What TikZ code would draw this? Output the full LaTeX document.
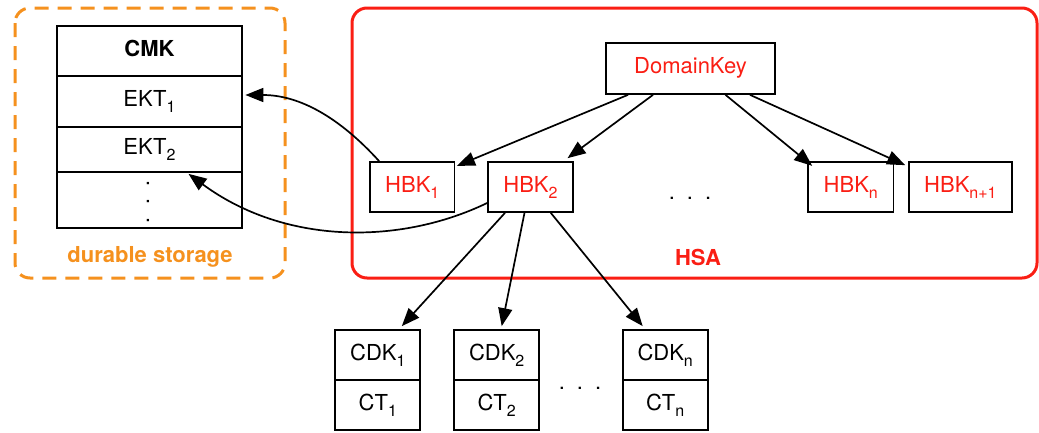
\documentclass[tikz,border=0pt]{standalone}
\usepackage{fontspec}
\setmainfont{TeX Gyre Heros}
\usetikzlibrary{arrows.meta}
\definecolor{hsared}{RGB}{250,30,20}
\definecolor{storeorange}{RGB}{245,145,30}
\newcommand\lowidx[1]{\raisebox{-6pt}{\fontsize{16}{16}\selectfont #1}}
\tikzset{
  every node/.style={font=\fontsize{22}{26}\selectfont},
  keybox/.style={draw=black, line width=1.7pt, inner sep=0pt, minimum height=50pt, text height=16pt, text depth=6pt},
  plainbox/.style={draw=black, line width=1.7pt, inner sep=0pt},
  hsatext/.style={text=hsared},
  conn/.style={line width=1.7pt, -{Triangle[length=18pt,width=14pt]}},
  dotmark/.style={inner sep=0pt, font=\fontsize{22}{22}\selectfont}
}
\begin{document}
\begin{tikzpicture}[x=1pt,y=-1pt]
\useasboundingbox (0,0) rectangle (1039,432);
% containers
\draw[storeorange, line width=3pt, dash pattern=on 14pt off 9pt, rounded corners=15pt] (15,8) rectangle (285,278);
\draw[hsared, line width=3pt, rounded corners=15pt] (352,8) rectangle (1037,278);
\node[text=storeorange, font=\bfseries\fontsize{22}{26}\selectfont] (dslabel) at (150,257) {durable storage};
\node[text=hsared, font=\bfseries\fontsize{22}{26}\selectfont] (hsalabel) at (698,257) {HSA};
% storage table
\node[keybox, minimum width=185pt, minimum height=50pt, font=\bfseries\fontsize{22}{26}\selectfont] (cmk) at (149.5,51) {CMK};
\node[keybox, minimum width=185pt, minimum height=51pt] (ekt1) at (149.5,101.5) {EKT\lowidx{1}};
\node[keybox, minimum width=185pt, minimum height=45pt] (ekt2) at (149.5,149.5) {EKT\lowidx{2}};
\node[plainbox, minimum width=185pt, minimum height=56pt] (erest) at (149.5,200) {};
\node[dotmark, rotate=-90] (vdots) at (148,202) {.\hspace{12pt}.\hspace{12pt}.};
% HSA keys
\node[keybox, hsatext, minimum width=169pt, minimum height=51pt] (domain) at (690.5,68.5) {DomainKey};
\node[keybox, hsatext, minimum width=84.6pt] (hbk1) at (412.3,187) {HBK\lowidx{1}};
\node[keybox, hsatext, minimum width=85pt] (hbk2) at (530.5,187) {HBK\lowidx{2}};
\node[keybox, hsatext, minimum width=85.5pt] (hbkn) at (850.8,187) {HBK\lowidx{n}};
\node[keybox, hsatext, minimum width=102.7pt] (hbkm) at (960.4,187) {HBK\lowidx{n+1}};
\node[dotmark] (hdots) at (690,198) {.\hspace{12pt}.\hspace{12pt}.};
% data keys
\node[keybox, minimum width=85pt] (cdk1) at (377.8,355) {CDK\lowidx{1}};
\node[keybox, minimum width=85pt] (ct1) at (377.8,405) {CT\lowidx{1}};
\node[keybox, minimum width=85pt] (cdk2) at (496.7,355) {CDK\lowidx{2}};
\node[keybox, minimum width=85pt] (ct2) at (496.7,405) {CT\lowidx{2}};
\node[keybox, minimum width=85pt] (cdkn) at (665.2,355) {CDK\lowidx{n}};
\node[keybox, minimum width=85pt] (ctn) at (665.2,405) {CT\lowidx{n}};
\node[dotmark] (bdots) at (580,388) {.\hspace{12pt}.\hspace{12pt}.};
% DomainKey -> HBKs
\draw[conn] ([xshift=-62.5pt]domain.south) -- ([xshift=1.5pt,yshift=-4.7pt]hbk1.north east);
\draw[conn] ([xshift=-37.5pt]domain.south) -- ([xshift=-6.3pt,yshift=3pt]hbk2.north east);
\draw[conn] ([xshift=35pt]domain.south) -- ([xshift=5pt,yshift=-4.7pt]hbkn.north west);
\draw[conn] ([xshift=59.5pt]domain.south) -- ([xshift=-3pt,yshift=-4pt]hbkm.north west);
% HBK2 -> CDKs
\draw[conn] ([xshift=-25.5pt]hbk2.south) -- ([xshift=24pt,yshift=3pt]cdk1.north);
\draw[conn] ([xshift=-6pt]hbk2.south) -- ([xshift=5pt,yshift=3pt]cdk2.north);
\draw[conn] ([xshift=20.3pt]hbk2.south) -- ([xshift=-22.5pt,yshift=3pt]cdkn.north);
% HBKs -> EKTs
\draw[conn] ([xshift=10pt]hbk1.north west) .. controls (340,118) and (300,95) .. ([xshift=2.5pt,yshift=6.5pt]ekt1.east);
\coordinate (ekt2in) at ([xshift=39pt,yshift=-1pt]ekt2.south);
\draw[conn] ([yshift=-16pt]hbk2.west) .. controls (400,245) and (285,245) .. (ekt2in);
\end{tikzpicture}
\end{document}
